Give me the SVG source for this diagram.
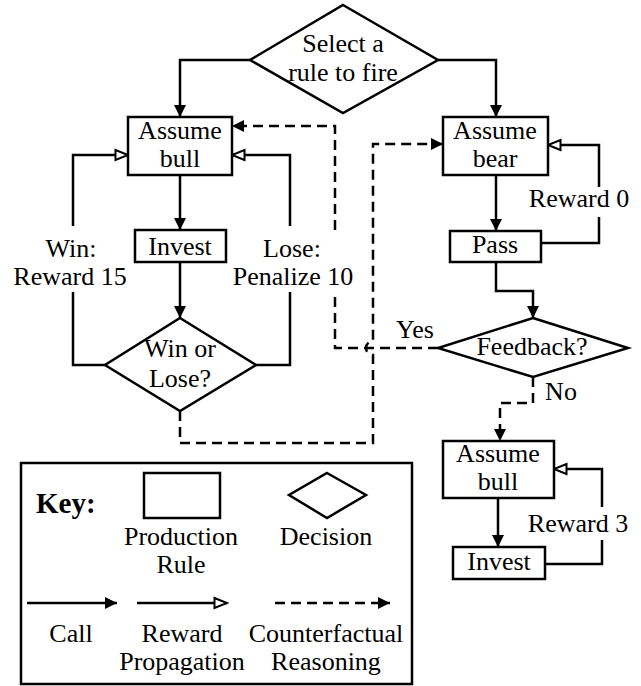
<svg xmlns="http://www.w3.org/2000/svg" width="641" height="686" viewBox="0 0 641 686" font-family="'Liberation Serif', 'Times New Roman', serif">
<style>
text{font-family:"Liberation Serif","Times New Roman",serif;font-size:26px;fill:#000;text-anchor:middle}
.node{fill:#fff;stroke:#000;stroke-width:2.5}
.ln{fill:none;stroke:#000;stroke-width:2.5}
.call{marker-end:url(#fa)}
.rew{marker-end:url(#oa)}
.cf{stroke-dasharray:10,6}
.cfa{marker-end:url(#fa)}
.key{font-weight:bold;font-size:29px;text-anchor:start}
</style>
<defs>
<marker id="fa" markerUnits="userSpaceOnUse" markerWidth="14" markerHeight="14" refX="13" refY="7" orient="auto">
<path d="M1,1 L13,7 L1,13 z" fill="#000"/>
</marker>
<marker id="oa" markerUnits="userSpaceOnUse" markerWidth="16" markerHeight="14" refX="14" refY="7" orient="auto">
<path d="M1.5,2 L14,7 L1.5,12 z" fill="#fff" stroke="#000" stroke-width="2"/>
</marker>
</defs>
<rect width="641" height="686" fill="#fff"/>
<g id="connectors">
<path class="ln call" d="M250,60 H180 V117"/>
<path class="ln call" d="M438,60 H496 V117"/>
<path class="ln call" d="M180,175 V230"/>
<path class="ln call" d="M180,262 V318"/>
<path class="ln" d="M105,365 H73 V292"/>
<path class="ln rew" d="M73,226 V155 H128"/>
<path class="ln" d="M256,365 H290 V292"/>
<path class="ln rew" d="M290,226 V155 H232"/>
<path class="ln call" d="M496,175 V231"/>
<path class="ln" d="M541,243 H599 V217"/>
<path class="ln rew" d="M599,187 V145 H548"/>
<path class="ln call" d="M496,262 V291 H533 V318"/>
<path class="ln cf" d="M438,348 H335 V292"/>
<path class="ln cf cfa" d="M335,230 V126 H232"/>
<path class="ln cf cfa" d="M180,411 V443 H373 V355 A7,7 0 0 1 373,341 V144 H443"/>
<path class="ln cf cfa" d="M533,377 V403 H500 V441"/>
<path class="ln call" d="M498,498 V547"/>
<path class="ln" d="M545,564 H602 V540"/>
<path class="ln rew" d="M602,507 V469 H554"/>
<text x="71" y="257">Win:</text>
<text x="70" y="285">Reward 15</text>
<text x="292" y="257">Lose:</text>
<text x="293" y="285">Penalize 10</text>
<text x="579" y="207">Reward 0</text>
<text x="415" y="338">Yes</text>
<text x="561" y="400">No</text>
<text x="578" y="532">Reward 3</text>
</g>
<g id="select">
<polygon class="node" points="343,5 438,60 343,113 250,60"/>
<text x="343" y="52">Select a</text>
<text x="343" y="81">rule to fire</text>
</g>
<g id="assume-bull">
<rect class="node" x="128" y="117" width="104" height="58"/>
<text x="180" y="139">Assume</text>
<text x="180" y="167">bull</text>
</g>
<g id="invest">
<rect class="node" x="135" y="230" width="91" height="32"/>
<text x="180" y="255">Invest</text>
</g>
<g id="win-or-lose">
<polygon class="node" points="180,318 256,365 180,411 105,365"/>
<text x="180" y="357">Win or</text>
<text x="180" y="387">Lose?</text>
</g>
<g id="assume-bear">
<rect class="node" x="443" y="117" width="105" height="58"/>
<text x="495" y="139">Assume</text>
<text x="495" y="167">bear</text>
</g>
<g id="pass">
<rect class="node" x="450" y="231" width="91" height="31"/>
<text x="495" y="253">Pass</text>
</g>
<g id="feedback">
<polygon class="node" points="533,318 628,348 533,377 438,348"/>
<text x="532" y="355">Feedback?</text>
</g>
<g id="assume-bull-2">
<rect class="node" x="443" y="441" width="111" height="57"/>
<text x="498" y="462">Assume</text>
<text x="498" y="490">bull</text>
</g>
<g id="invest-2">
<rect class="node" x="453" y="547" width="92" height="32"/>
<text x="499" y="570">Invest</text>
</g>
<g id="key">
<rect class="node" x="21" y="463" width="391" height="221"/>
<text class="key" x="36" y="513">Key:</text>
<rect class="node" x="144" y="473" width="76" height="45"/>
<polygon class="node" points="327,473 366,495 327,518 289,495"/>
<text x="181" y="545">Production</text>
<text x="181" y="573">Rule</text>
<text x="326" y="545">Decision</text>
<path class="ln call" d="M27,603 H117"/>
<path class="ln rew" d="M137,603 H227"/>
<path class="ln cf cfa" d="M275,603 H390"/>
<text x="71" y="642">Call</text>
<text x="182" y="642">Reward</text>
<text x="182" y="670">Propagation</text>
<text x="326" y="642">Counterfactual</text>
<text x="326" y="670">Reasoning</text>
</g>
</svg>
